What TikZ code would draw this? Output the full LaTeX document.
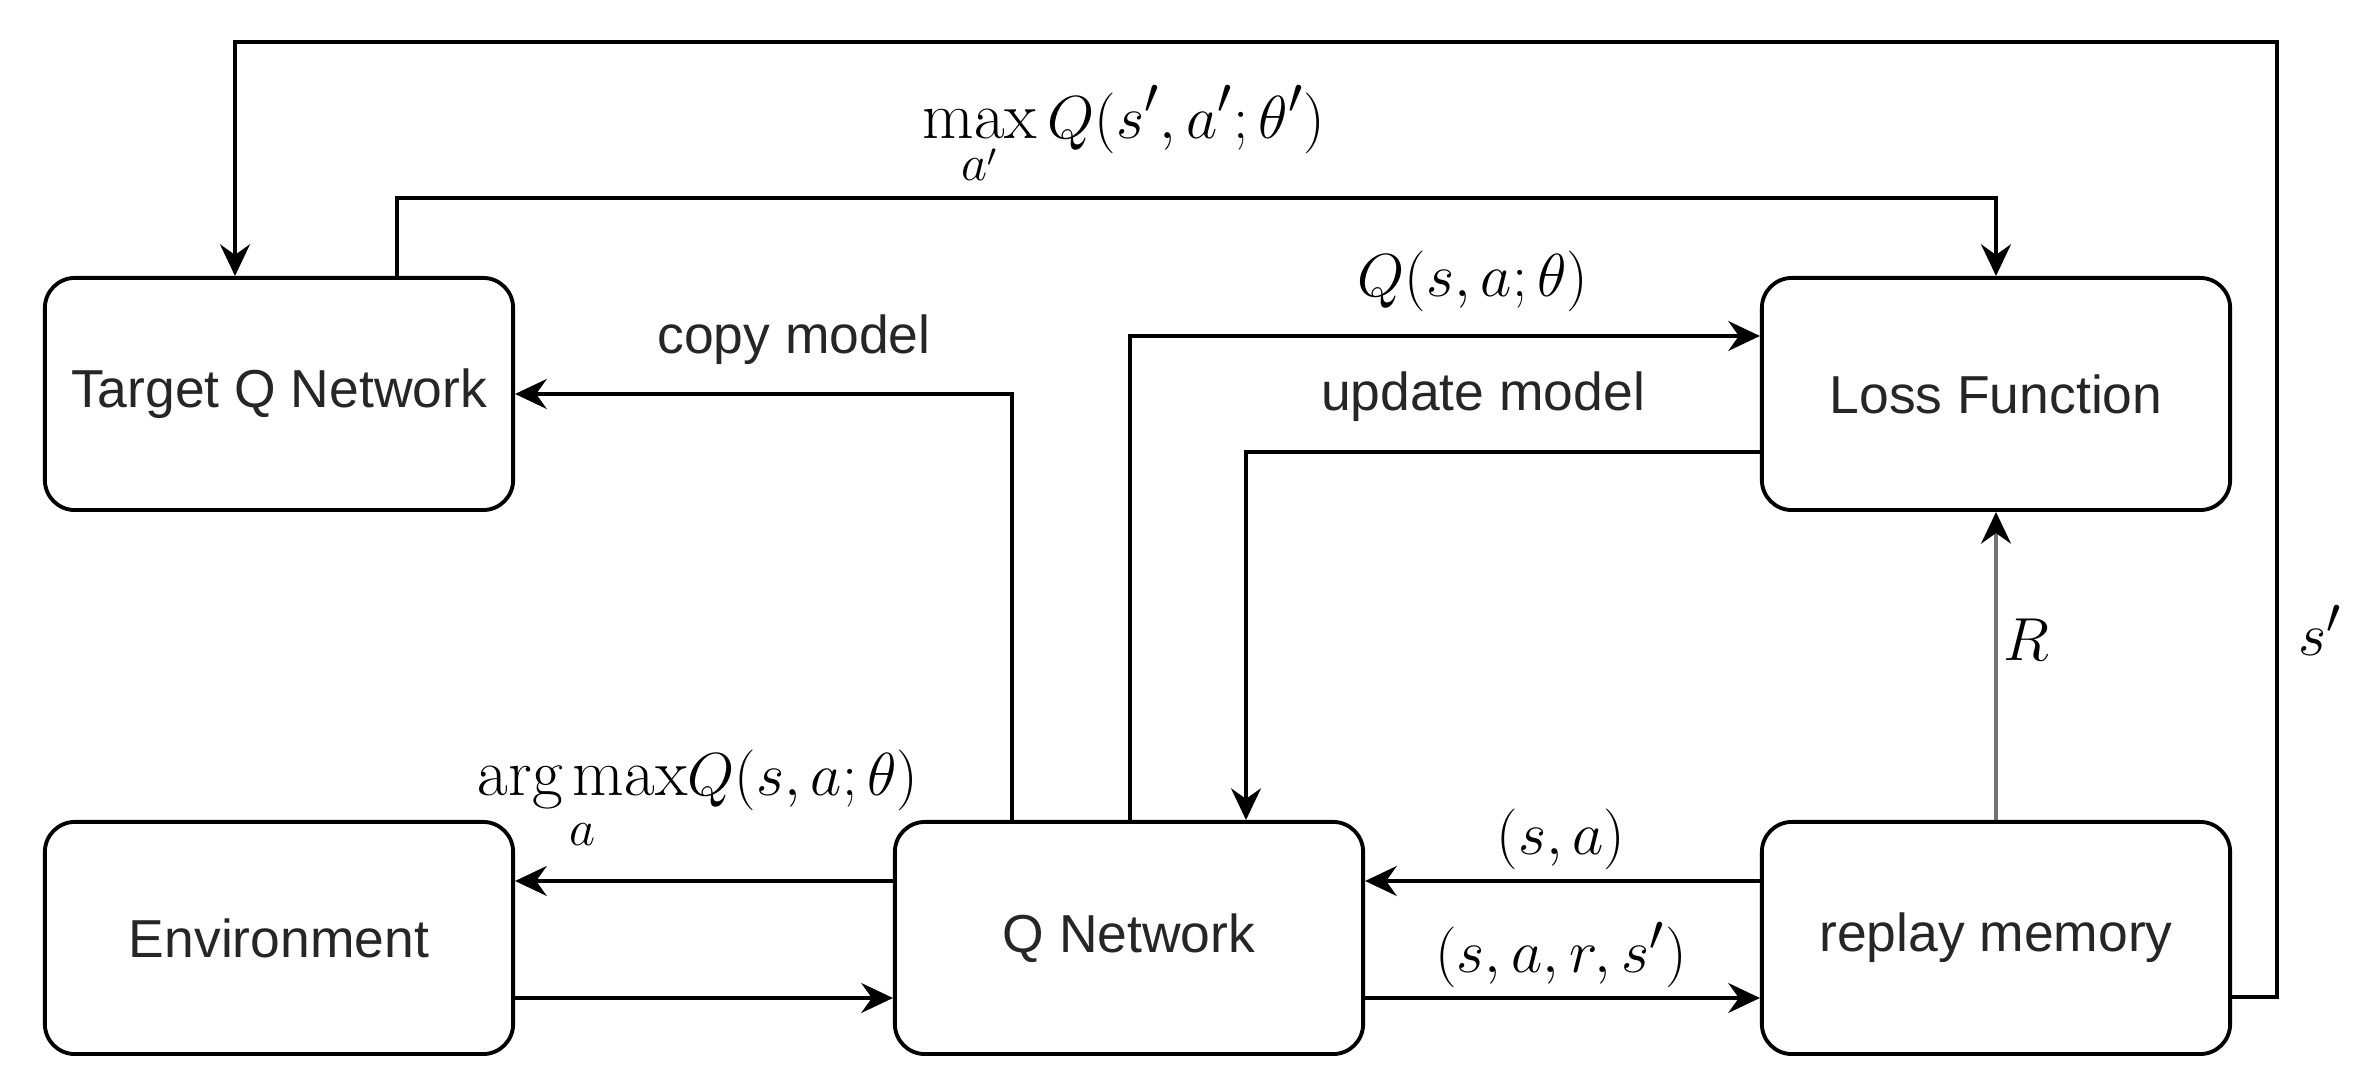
\documentclass[tikz,border=0pt]{standalone}
\usepackage{amsmath}
\usepackage{fontspec}
\newfontfamily\arialfont{Liberation Sans}
\usetikzlibrary{arrows.meta}
\newcommand{\boxfont}{\arialfont\fontsize{15.2}{18}\selectfont}
\begin{document}
\begin{tikzpicture}[x=0.01cm,y=-0.01cm,
  box/.style={draw, line width=1.1pt, rounded corners=0.3cm, minimum width=4.68cm, minimum height=2.32cm, inner sep=0pt, font=\boxfont, text=black!85},
  conn/.style={line width=1pt, -{Stealth[length=9pt,width=8.5pt,inset=3pt]}},
  lbl/.style={inner sep=0pt, font=\fontsize{19}{23}\selectfont},
  txt/.style={inner sep=0pt, font=\boxfont, text=black!85}]
\useasboundingbox (0,0) rectangle (2378,1092);
% nodes
\node[box] (tq) at (279,394) {Target Q Network};
\node[box] (lf) at (1996,394) {Loss Function};
\node[box] (env) at (279,938) {Environment};
\node[box] (qn) at (1129,938) {Q Network};
\node[box] (rm) at (1996,938) {replay memory};
% helper coordinates
\coordinate (c1) at (2277,997);
\coordinate (c2) at (2277,42);
\coordinate (c3) at (235,42);
\coordinate (c4) at (397,198);
\coordinate (c5) at (1996,198);
\coordinate (c6) at (1012,394);
\coordinate (c7) at (1130,336);
\coordinate (c8) at (1246,452);
\coordinate (yU) at (0,881);
\coordinate (yD) at (0,998);
% connectors
\draw[conn] (rm.east |- c1) -- (c1) -- (c2) -- (c3) -- (tq.north -| c3);
\draw[conn] (tq.north -| c4) -- (c4) -- (c5) -- (lf.north);
\draw[conn] (qn.north -| c6) -- (c6) -- (tq.east);
\draw[conn] (qn.north -| c7) -- (c7) -- (lf.west |- c7);
\draw[conn] (lf.west |- c8) -- (c8) -- (qn.north -| c8);
\draw[line width=1pt, draw=black!55, -{Stealth[length=9pt,width=8.5pt,inset=3pt,color=black]}] (rm.north) -- (lf.south);
\draw[conn] (qn.west |- yU) -- (env.east |- yU);
\draw[conn] (env.east |- yD) -- (qn.west |- yD);
\draw[conn] (rm.west |- yU) -- (qn.east |- yU);
\draw[conn] (qn.east |- yD) -- (rm.west |- yD);
% labels
\node[lbl] (lmax) at (1124,136) {$\displaystyle\max_{a'} Q(s',a';\theta')$};
\node[lbl] (largmax) at (698,801) {$\displaystyle\operatorname*{arg\,max}_{a}\!Q(s,a;\theta)$};
\node[lbl] (lq) at (1473,281) {$Q(s,a;\theta)$};
\node[lbl] (lsa) at (1561,839) {$(s,a)$};
\node[lbl] (lsars) at (1561,955) {$(s,a,r,s')$};
\node[lbl, anchor=west] (lr) at (2003,640) {$R$};
\node[lbl] (ls) at (2320,630) {$s'$};
\node[txt, anchor=base] (lcopy) at (794,354) {copy model};
\node[txt, anchor=base] (lupd) at (1483,411) {update model};
\end{tikzpicture}
\end{document}
